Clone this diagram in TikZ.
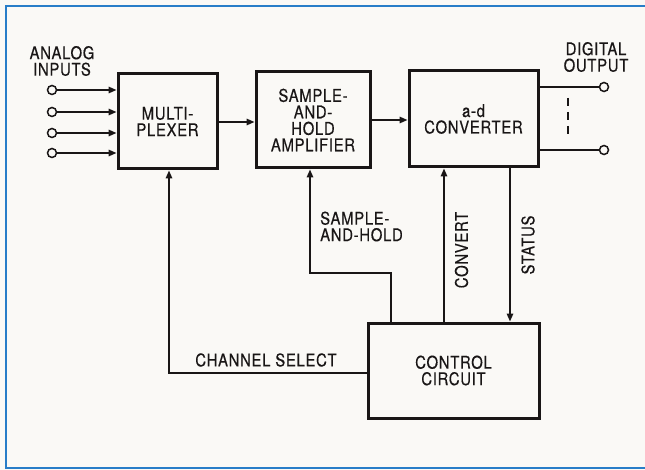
\documentclass[tikz,border=0pt]{standalone}
\usepackage{fontspec}
\setmainfont[FakeStretch=0.85, LetterSpace=4, FakeBold=0.4]{TeX Gyre Heros}
\usetikzlibrary{arrows.meta}
\definecolor{paper}{RGB}{250,249,246}
\definecolor{frameblue}{RGB}{40,125,200}
\definecolor{ink}{RGB}{25,22,22}
\tikzset{
  blockbox/.style={draw=ink, line width=3pt, rectangle, inner sep=0pt, align=center, text=ink},
  lbl/.style={text=ink, inner sep=0pt, align=center},
  conn/.style={draw=ink, line width=1.5pt},
  arr/.style={conn, -{Triangle[length=8pt,width=6.5pt]}},
  term/.style={circle, draw=ink, line width=1.5pt, fill=paper, minimum size=9pt, inner sep=0pt},
  txt/.style={font=\fontsize{17.5}{16.5}\selectfont}
}
\begin{document}
\begin{tikzpicture}[x=1pt,y=-1pt, txt]
\useasboundingbox (0,0) rectangle (645,470);
\fill[paper] (0,0) rectangle (645,470);
\draw[frameblue, line width=2.5pt] (645,6) -- (6,6) -- (6,468) -- (645,468);

% blocks
\node[blockbox, minimum width=99pt, minimum height=95pt] (mux) at (167.5,121.5) {MULTI-\\PLEXER};
\node[blockbox, minimum width=114pt, minimum height=96pt] (sh) at (313,120) {SAMPLE-\\AND-\\HOLD\\AMPLIFIER};
\node[blockbox, minimum width=129pt, minimum height=96pt] (adc) at (473.5,119) {a-d\\CONVERTER};
\node[blockbox, minimum width=171pt, minimum height=95pt] (ctrl) at (453.5,370.5) {CONTROL\\CIRCUIT};

% labels
\node[lbl] (ain) at (62,61) {ANALOG\\INPUTS};
\node[lbl] (dout) at (596,57) {DIGITAL\\OUTPUT};
\node[lbl, align=left, anchor=west] (shl) at (320,226.5) {SAMPLE-\\AND-HOLD};
\node[lbl, rotate=90] (cvl) at (461.5,250) {CONVERT};
\node[lbl, rotate=90] (stl) at (528,245) {STATUS};
\node[lbl] (csl) at (266,360) {CHANNEL SELECT};

% input terminals
\node[term] (in1) at (52,90) {};
\node[term] (in2) at (52,112) {};
\node[term] (in3) at (52,133) {};
\node[term] (in4) at (52,153) {};
\foreach \i in {1,...,4} \draw[arr] (in\i) -- (in\i -| mux.west);

% output terminals
\node[term] (out1) at (604,87) {};
\node[term] (out2) at (604,150) {};
\draw[conn] (out1 -| adc.east) -- (out1);
\draw[conn] (out2 -| adc.east) -- (out2);
\coordinate (dtop) at (568,98);
\coordinate (dbot) at (568,138);
\draw[conn, dash pattern=on 8pt off 6pt] (dtop) -- (dbot);

% forward path
\draw[arr] (mux.east |- 0,122) -- (sh.west |- 0,122);
\draw[arr] (sh.east |- 0,120) -- (adc.west |- 0,120);

% control lines
\coordinate (cs) at (169,373);
\draw[arr] (ctrl.west |- cs) -- (cs) -- (cs |- mux.south);
\coordinate (sa) at (391,273);
\coordinate (sb) at (310,273);
\draw[arr] (sa |- ctrl.north) -- (sa) -- (sb) -- (sb |- sh.south);
\coordinate (cv) at (444,250);
\draw[arr] (cv |- ctrl.north) -- (cv |- adc.south);
\coordinate (st) at (510,250);
\draw[arr] (st |- adc.south) -- (st |- ctrl.north);
\end{tikzpicture}
\end{document}
